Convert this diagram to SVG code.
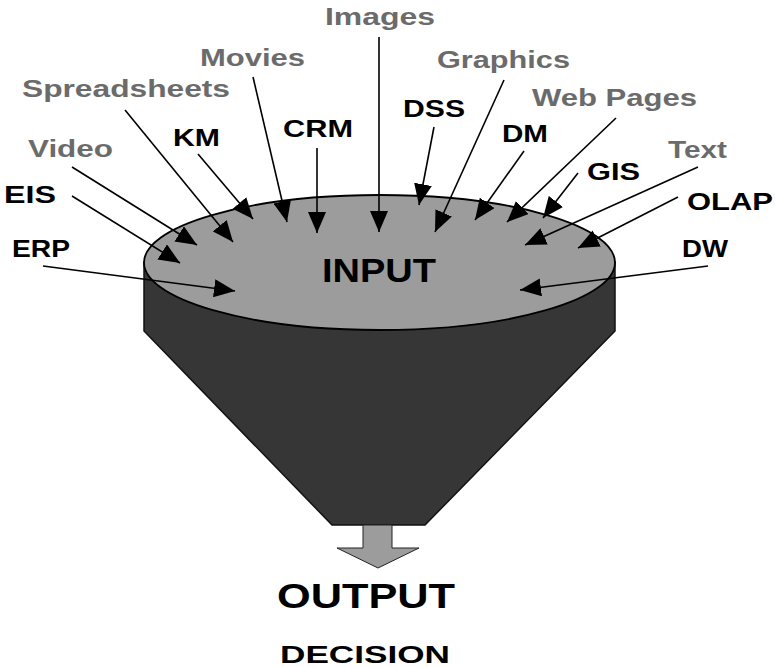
<svg xmlns="http://www.w3.org/2000/svg" width="775" height="667" viewBox="0 0 775 667">
  <defs>
    <marker id="head" markerUnits="userSpaceOnUse" markerWidth="22" markerHeight="18" refX="21" refY="9" orient="auto">
      <path d="M0,0 L21,9 L0,18 z" fill="#000"/>
    </marker>
    <style>
      .lbl { font-family: "Liberation Sans", Arial, sans-serif; font-weight: bold; font-size: 23px; }
      .gray { fill: #6b6b6b; }
      .blk { fill: #000; }
      .big { font-family: "Liberation Sans", Arial, sans-serif; font-weight: bold; fill: #000; }
      .conn line { stroke: #000; stroke-width: 1.6; marker-end: url(#head); }
    </style>
  </defs>
  <rect width="775" height="667" fill="#fff"/>

  <!-- funnel body -->
  <g id="funnel">
    <path d="M144,262 L144,331 L332,525 L425,525 L615,331 L615,262 Z" fill="#363636" stroke="#111" stroke-width="1.5"/>
    <ellipse cx="379.5" cy="262.5" rx="235.5" ry="67.5" fill="#9c9c9c" stroke="#000" stroke-width="1.8"/>
    <text class="big" x="322" y="282" font-size="34" textLength="114" lengthAdjust="spacingAndGlyphs">INPUT</text>
  </g>

  <!-- output arrow -->
  <g id="output-arrow">
    <path d="M363,525 L392,525 L392,548 L419,548 L378,568 L337,548 L363,548 Z" fill="#9c9c9c" stroke="#222" stroke-width="1"/>
  </g>

  <g id="output">
    <text class="big" x="277" y="608" font-size="35" textLength="178" lengthAdjust="spacingAndGlyphs">OUTPUT</text>
  </g>
  <g id="decision">
    <text class="big" x="280" y="663" font-size="24" textLength="170" lengthAdjust="spacingAndGlyphs">DECISION</text>
  </g>

  <!-- source labels -->
  <g id="images"><text class="lbl gray" x="325" y="25" textLength="110" lengthAdjust="spacingAndGlyphs">Images</text></g>
  <g id="movies"><text class="lbl gray" x="200" y="66" textLength="105" lengthAdjust="spacingAndGlyphs">Movies</text></g>
  <g id="spreadsheets"><text class="lbl gray" x="22" y="97" textLength="208" lengthAdjust="spacingAndGlyphs">Spreadsheets</text></g>
  <g id="km"><text class="lbl blk" x="173" y="146" textLength="47" lengthAdjust="spacingAndGlyphs">KM</text></g>
  <g id="crm"><text class="lbl blk" x="283" y="137" textLength="70" lengthAdjust="spacingAndGlyphs">CRM</text></g>
  <g id="video"><text class="lbl gray" x="28" y="157" textLength="85" lengthAdjust="spacingAndGlyphs">Video</text></g>
  <g id="eis"><text class="lbl blk" x="4" y="203" textLength="52" lengthAdjust="spacingAndGlyphs">EIS</text></g>
  <g id="erp"><text class="lbl blk" x="12" y="257" textLength="58" lengthAdjust="spacingAndGlyphs">ERP</text></g>
  <g id="graphics"><text class="lbl gray" x="437" y="68" textLength="133" lengthAdjust="spacingAndGlyphs">Graphics</text></g>
  <g id="web-pages"><text class="lbl gray" x="532" y="106" textLength="165" lengthAdjust="spacingAndGlyphs">Web Pages</text></g>
  <g id="dss"><text class="lbl blk" x="403" y="117" textLength="62" lengthAdjust="spacingAndGlyphs">DSS</text></g>
  <g id="dm"><text class="lbl blk" x="502" y="142" textLength="46" lengthAdjust="spacingAndGlyphs">DM</text></g>
  <g id="text"><text class="lbl gray" x="668" y="158" textLength="59" lengthAdjust="spacingAndGlyphs">Text</text></g>
  <g id="gis"><text class="lbl blk" x="587" y="180" textLength="53" lengthAdjust="spacingAndGlyphs">GIS</text></g>
  <g id="olap"><text class="lbl blk" x="687" y="210" textLength="86" lengthAdjust="spacingAndGlyphs">OLAP</text></g>
  <g id="dw"><text class="lbl blk" x="682" y="257" textLength="46" lengthAdjust="spacingAndGlyphs">DW</text></g>

  <!-- connectors into the funnel top -->
  <g id="connectors" class="conn">
    <line x1="43" y1="266" x2="235" y2="291"/>
    <line x1="72" y1="196" x2="180" y2="263"/>
    <line x1="72" y1="167" x2="197" y2="245"/>
    <line x1="125" y1="110" x2="233" y2="242"/>
    <line x1="198" y1="154" x2="253" y2="219"/>
    <line x1="253" y1="77" x2="287" y2="222"/>
    <line x1="317" y1="148" x2="317" y2="233"/>
    <line x1="379" y1="37" x2="379" y2="232"/>
    <line x1="434" y1="127" x2="419" y2="205"/>
    <line x1="504" y1="80" x2="435" y2="232"/>
    <line x1="524" y1="151" x2="475" y2="220"/>
    <line x1="616" y1="118" x2="507" y2="222"/>
    <line x1="578" y1="173" x2="543" y2="218"/>
    <line x1="698" y1="167" x2="525" y2="245"/>
    <line x1="678" y1="197" x2="578" y2="248"/>
    <line x1="708" y1="266" x2="520" y2="290"/>
  </g>
</svg>
